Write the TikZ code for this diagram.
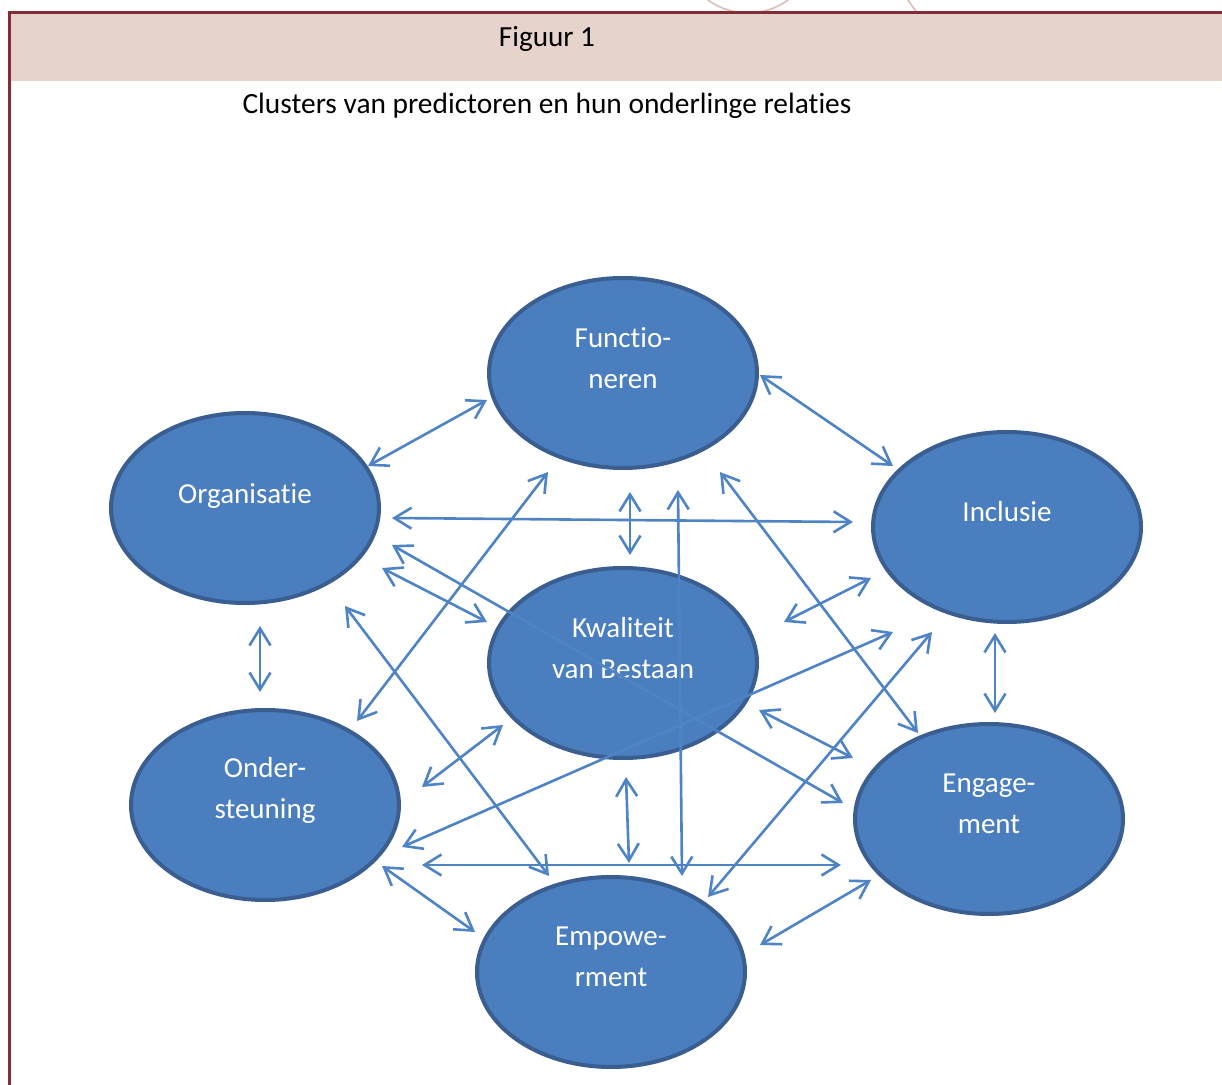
\documentclass[tikz,border=0pt]{standalone}
\usepackage{fontspec}
\setmainfont{Carlito}[Ligatures=CommonOff]
\usetikzlibrary{shapes.geometric,arrows.meta}
\definecolor{clfill}{RGB}{74,126,191}
\definecolor{clborder}{RGB}{57,94,143}
\definecolor{relblue}{RGB}{78,131,198}
\definecolor{framered}{RGB}{128,45,53}
\definecolor{headfill}{RGB}{230,212,204}
\definecolor{palearc}{RGB}{218,190,181}

\begin{document}
\begin{tikzpicture}[x=0.5pt,y=-0.5pt,
  cluster/.style={ellipse,draw=clborder,fill=clfill,line width=2pt,
    minimum width=134pt,minimum height=95pt,inner sep=0pt},
  clabel/.style={text=white,align=center,font=\fontsize{14.5}{20.5}\selectfont,yshift=7.5pt},
  rel/.style={relblue,line width=1.3pt,
    {Straight Barb[length=8.5pt,width=10.5pt]}-{Straight Barb[length=8.5pt,width=10.5pt]}}]
  \useasboundingbox (0,0) rectangle (1222,1085);
  % header band and frame
  \begin{scope}
    \clip (0,0) rectangle (1222,12);
    \draw[palearc,line width=0.8pt] (748,-55) circle (68);
    \draw[palearc,line width=0.8pt] (1200,-200) circle (353.9);
  \end{scope}
  \fill[headfill] (10,14) rectangle (1222,81);
  \draw[framered,line width=1.5pt] (9,1085) -- (9,12.5) -- (1222,12.5);
  \node[font=\fontsize{14.6}{17}\selectfont] (fig) at (547,39) {Figuur 1};
  \node[font=\fontsize{14.7}{17}\selectfont] (title) at (547,106) {Clusters van predictoren en hun onderlinge relaties};
  % clusters
  \node[cluster,label={[clabel]center:{Functio-\\neren}}] (func) at (623,373) {};
  \node[cluster,label={[clabel,yshift=-1.5pt]center:{Organisatie}}] (org) at (245,508) {};
  \node[cluster,label={[clabel]center:{Inclusie}}] (incl) at (1007,527) {};
  \node[cluster,label={[clabel]center:{Kwaliteit\\van Bestaan}}] (kvb) at (623,663) {};
  \node[cluster,label={[clabel]center:{Onder-\\steuning}}] (onder) at (265,805) {};
  \node[cluster,label={[clabel]center:{Engage-\\ment}}] (engage) at (989,819) {};
  \node[cluster,label={[clabel]center:{Empowe-\\rment}}] (empow) at (611,972) {};
  % relations
  \draw[rel] ([shift={(123,-42)}]org.center) -- ([shift={(-136,27)}]func.center);
  \draw[rel] ([shift={(137,2)}]func.center) -- ([shift={(-114,-61)}]incl.center);
  \draw[rel] ([shift={(147,10)}]org.center) -- ([shift={(-154,-5)}]incl.center);
  \draw[rel] ([shift={(7,119)}]func.center) -- ([shift={(7,-108)}]kvb.center);
  \draw[rel] ([shift={(55,117)}]func.center) -- ([shift={(71,-96)}]empow.center);
  \draw[rel] ([shift={(-75,99)}]func.center) -- ([shift={(92,-84)}]onder.center);
  \draw[rel] ([shift={(97,99)}]func.center) -- ([shift={(-71,-86)}]engage.center);
  \draw[rel] ([shift={(147,37)}]org.center) -- ([shift={(-146,-16)}]engage.center);
  \draw[rel] ([shift={(137,60)}]org.center) -- ([shift={(-136,-41)}]kvb.center);
  \draw[rel] ([shift={(100,98)}]org.center) -- ([shift={(-62,-96)}]empow.center);
  \draw[rel] ([shift={(15,118)}]org.center) -- ([shift={(-5,-113)}]onder.center);
  \draw[rel] ([shift={(161,-41)}]kvb.center) -- ([shift={(-136,51)}]incl.center);
  \draw[rel] ([shift={(137,42)}]onder.center) -- ([shift={(-114,105)}]incl.center);
  \draw[rel] ([shift={(97,-75)}]empow.center) -- ([shift={(-75,105)}]incl.center);
  \draw[rel] ([shift={(157,-18)}]onder.center) -- ([shift={(-120,62)}]kvb.center);
  \draw[rel] ([shift={(136,47)}]kvb.center) -- ([shift={(-136,-61)}]engage.center);
  \draw[rel] ([shift={(3,114)}]kvb.center) -- ([shift={(18,-109)}]empow.center);
  \draw[rel] ([shift={(157,60)}]onder.center) -- ([shift={(-148,46)}]engage.center);
  \draw[rel] ([shift={(117,61)}]onder.center) -- ([shift={(-136,-40)}]empow.center);
  \draw[rel] ([shift={(149,-27)}]empow.center) -- ([shift={(-118,61)}]engage.center);
  \draw[rel] ([shift={(-12,106)}]incl.center) -- ([shift={(6,-106)}]engage.center);
\end{tikzpicture}
\end{document}
